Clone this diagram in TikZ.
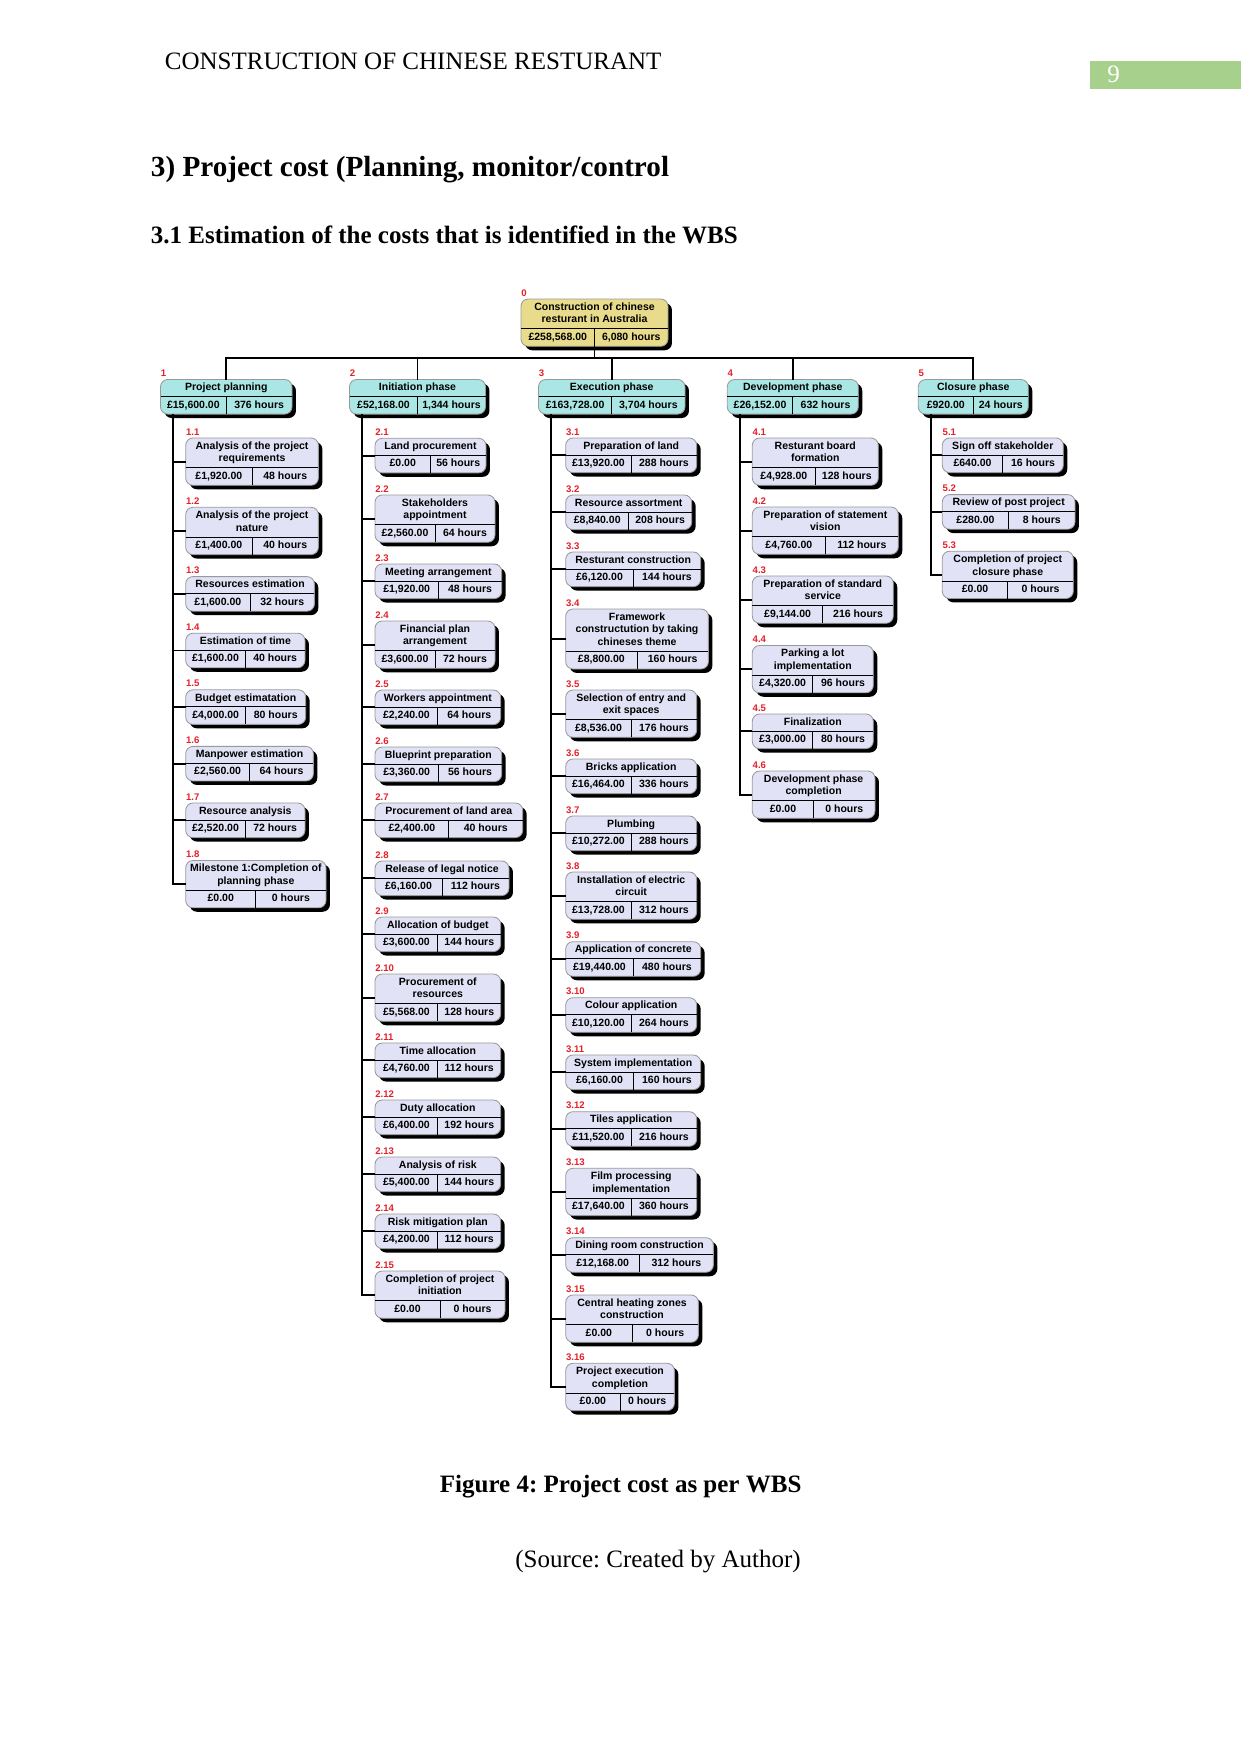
\documentclass[tikz,border=0pt]{standalone}
\usepackage{fontspec}
\setmainfont{Liberation Serif}
\newfontfamily\wbsfam{Liberation Sans}
\usetikzlibrary{fit,backgrounds,shadows}

\definecolor{rootfill}{HTML}{E8DC8C}
\definecolor{phasefill}{HTML}{AAE6E4}
\definecolor{taskfill}{HTML}{E2E2F6}
\definecolor{numred}{HTML}{E3202A}
\definecolor{pagegreen}{HTML}{A8D08D}

\newcommand\wbsup{\rule{0pt}{3.9pt}}
\newcommand\wbsdn{\rule[-1.3pt]{0pt}{1.3pt}}

% #1 fill style, #2 name, #3 top left, #4 width (px), #5 number, #6 title, #7 cost, #8 hours
\newcommand{\wbsbox}[8]{%
  \node[wbstitle, minimum width=#4*0.48pt, anchor=north west] (#2-ti) at #3 {\wbsup#6\wbsdn};
  \node[wbscell, minimum width=#4*0.24pt, anchor=north west] (#2-co) at (#2-ti.south west) {#7};
  \node[wbscell, minimum width=#4*0.24pt, anchor=north west] (#2-hr) at (#2-co.north east) {#8};
  \begin{scope}[on background layer]
    \node[wbsframe, #1, fit=(#2-ti)(#2-co)(#2-hr)] (#2) {};
  \end{scope}
  \draw[wbsrule] (#2-ti.south west) -- (#2-ti.south east);
  \draw[wbsrule] (#2-co.north east) -- (#2-co.south east);
  \node[wbsnum] (#2-no) at ([yshift=1.4pt]#2.north west) {#5};
}

\begin{document}
\frenchspacing
\begin{tikzpicture}[x=0.48pt, y=-0.48pt,
    wbstitle/.style={inner xsep=1pt, inner ysep=1.5pt, outer sep=0pt, align=center,
      font=\wbsfam\bfseries\fontsize{5.05pt}{6.1pt}\selectfont},
    wbscell/.style={inner xsep=0pt, inner ysep=1.6pt, outer sep=0pt,
      text height=3.9pt, text depth=1.3pt,
      font=\wbsfam\bfseries\fontsize{5.05pt}{6.1pt}\selectfont},
    wbsframe/.style={draw=gray!80, line width=0.4pt, rounded corners=3.5pt,
      inner sep=0pt, outer sep=0pt,
      drop shadow={shadow xshift=1.9pt, shadow yshift=-1.9pt, opacity=1, fill=black}},
    wbsroot/.style={fill=rootfill},
    wbsphase/.style={fill=phasefill},
    wbstask/.style={fill=taskfill},
    wbsrule/.style={line width=0.4pt, black},
    wbsnum/.style={anchor=base west, inner sep=0pt, text=numred,
      font=\wbsfam\bfseries\fontsize{4.6pt}{5.5pt}\selectfont},
    wbslink/.style={line width=0.9pt, black}]
  \useasboundingbox (0,0) rectangle (1241,1754);

  % Page header and headings
  \node[anchor=base west, inner sep=0pt, font=\fontsize{12pt}{14pt}\selectfont] (head) at (164.5,69.3) {CONSTRUCTION OF CHINESE RESTURANT};
  \fill[pagegreen] (1090,61) rectangle (1241,89);
  \node[anchor=base west, inner sep=0pt, text=white, font=\fontsize{12pt}{14pt}\selectfont] (pageno) at (1107,82.7) {9};
  \node[anchor=base west, inner sep=0pt, font=\bfseries\fontsize{14pt}{17pt}\selectfont] (sec) at (150.5,176.7) {3) Project cost (Planning, monitor/control};
  \node[anchor=base west, inner sep=0pt, font=\bfseries\fontsize{12pt}{14pt}\selectfont] (subsec) at (150.5,243.5) {3.1 Estimation of the costs that is identified in the WBS};

  % Root and phases
  \wbsbox{wbsroot}{root}{(521,299)}{147}{0}{Construction of chinese\\resturant in Australia}{£258,568.00}{6,080 hours}
  \wbsbox{wbsphase}{ph1}{(160.5,379.5)}{131.5}{1}{Project planning}{£15,600.00}{376 hours}
  \wbsbox{wbsphase}{ph2}{(349.5,379.5)}{136}{2}{Initiation phase}{£52,168.00}{1,344 hours}
  \wbsbox{wbsphase}{ph3}{(538.5,379.5)}{146.5}{3}{Execution phase}{£163,728.00}{3,704 hours}
  \wbsbox{wbsphase}{ph4}{(727.3,379.5)}{131}{4}{Development phase}{£26,152.00}{632 hours}
  \wbsbox{wbsphase}{ph5}{(918.3,379.5)}{110}{5}{Closure phase}{£920.00}{24 hours}

  % Project planning
  \wbsbox{wbstask}{t1-1}{(185.7,438)}{132.7}{1.1}{Analysis of the project\\requirements}{£1,920.00}{48 hours}
  \wbsbox{wbstask}{t1-2}{(185.7,507.3)}{132.7}{1.2}{Analysis of the project\\nature}{£1,400.00}{40 hours}
  \wbsbox{wbstask}{t1-3}{(185.7,576.6)}{128.7}{1.3}{Resources estimation}{£1,600.00}{32 hours}
  \wbsbox{wbstask}{t1-4}{(185.7,633.2)}{119.3}{1.4}{Estimation of time}{£1,600.00}{40 hours}
  \wbsbox{wbstask}{t1-5}{(185.7,689.8)}{120}{1.5}{Budget estimatation}{£4,000.00}{80 hours}
  \wbsbox{wbstask}{t1-6}{(185.7,746.4)}{127.7}{1.6}{Manpower estimation}{£2,560.00}{64 hours}
  \wbsbox{wbstask}{t1-7}{(185.7,803)}{119.3}{1.7}{Resource analysis}{£2,520.00}{72 hours}
  \wbsbox{wbstask}{t1-8}{(185.7,860.5)}{140.3}{1.8}{Milestone 1:Completion of\\planning phase}{£0.00}{0 hours}

  % Initiation phase
  \wbsbox{wbstask}{t2-1}{(375,438.3)}{111}{2.1}{Land procurement}{£0.00}{56 hours}
  \wbsbox{wbstask}{t2-2}{(375,495)}{120}{2.2}{Stakeholders\\appointment}{£2,560.00}{64 hours}
  \wbsbox{wbstask}{t2-3}{(375,564)}{126.7}{2.3}{Meeting arrangement}{£1,920.00}{48 hours}
  \wbsbox{wbstask}{t2-4}{(375,621)}{120}{2.4}{Financial plan\\arrangement}{£3,600.00}{72 hours}
  \wbsbox{wbstask}{t2-5}{(375,690)}{125.7}{2.5}{Workers appointment}{£2,240.00}{64 hours}
  \wbsbox{wbstask}{t2-6}{(375,747)}{126.7}{2.6}{Blueprint preparation}{£3,360.00}{56 hours}
  \wbsbox{wbstask}{t2-7}{(375,803)}{147.7}{2.7}{Procurement of land area}{£2,400.00}{40 hours}
  \wbsbox{wbstask}{t2-8}{(375,861)}{134}{2.8}{Release of legal notice}{£6,160.00}{112 hours}
  \wbsbox{wbstask}{t2-9}{(375,917)}{125.7}{2.9}{Allocation of budget}{£3,600.00}{144 hours}
  \wbsbox{wbstask}{t2-10}{(375,974)}{125.7}{2.10}{Procurement of\\resources}{£5,568.00}{128 hours}
  \wbsbox{wbstask}{t2-11}{(375,1043)}{125.7}{2.11}{Time allocation}{£4,760.00}{112 hours}
  \wbsbox{wbstask}{t2-12}{(375,1100)}{125.7}{2.12}{Duty allocation}{£6,400.00}{192 hours}
  \wbsbox{wbstask}{t2-13}{(375,1157)}{125.7}{2.13}{Analysis of risk}{£5,400.00}{144 hours}
  \wbsbox{wbstask}{t2-14}{(375,1214)}{125.7}{2.14}{Risk mitigation plan}{£4,200.00}{112 hours}
  \wbsbox{wbstask}{t2-15}{(375,1271)}{130}{2.15}{Completion of project\\initiation}{£0.00}{0 hours}

  % Execution phase
  \wbsbox{wbstask}{t3-1}{(565.7,438)}{131}{3.1}{Preparation of land}{£13,920.00}{288 hours}
  \wbsbox{wbstask}{t3-2}{(565.7,495)}{126}{3.2}{Resource assortment}{£8,840.00}{208 hours}
  \wbsbox{wbstask}{t3-3}{(565.7,552)}{135}{3.3}{Resturant construction}{£6,120.00}{144 hours}
  \wbsbox{wbstask}{t3-4}{(565.7,609)}{142.7}{3.4}{Framework\\constructution by taking\\chineses theme}{£8,800.00}{160 hours}
  \wbsbox{wbstask}{t3-5}{(565.7,690)}{131}{3.5}{Selection of entry and\\exit spaces}{£8,536.00}{176 hours}
  \wbsbox{wbstask}{t3-6}{(565.7,759)}{131}{3.6}{Bricks application}{£16,464.00}{336 hours}
  \wbsbox{wbstask}{t3-7}{(565.7,816)}{131}{3.7}{Plumbing}{£10,272.00}{288 hours}
  \wbsbox{wbstask}{t3-8}{(565.7,872)}{131}{3.8}{Installation of electric\\circuit}{£13,728.00}{312 hours}
  \wbsbox{wbstask}{t3-9}{(565.7,941.7)}{135}{3.9}{Application of concrete}{£19,440.00}{480 hours}
  \wbsbox{wbstask}{t3-10}{(565.7,997.7)}{131}{3.10}{Colour application}{£10,120.00}{264 hours}
  \wbsbox{wbstask}{t3-11}{(565.7,1055)}{135}{3.11}{System implementation}{£6,160.00}{160 hours}
  \wbsbox{wbstask}{t3-12}{(565.7,1111.7)}{131}{3.12}{Tiles application}{£11,520.00}{216 hours}
  \wbsbox{wbstask}{t3-13}{(565.7,1168.3)}{131}{3.13}{Film processing\\implementation}{£17,640.00}{360 hours}
  \wbsbox{wbstask}{t3-14}{(565.7,1237.7)}{147.7}{3.14}{Dining room construction}{£12,168.00}{312 hours}
  \wbsbox{wbstask}{t3-15}{(565.7,1295)}{132.7}{3.15}{Central heating zones\\construction}{£0.00}{0 hours}
  \wbsbox{wbstask}{t3-16}{(565.7,1363.3)}{108.7}{3.16}{Project execution\\completion}{£0.00}{0 hours}

  % Development phase
  \wbsbox{wbstask}{t4-1}{(752.3,438)}{126}{4.1}{Resturant board\\formation}{£4,928.00}{128 hours}
  \wbsbox{wbstask}{t4-2}{(752.3,507)}{146}{4.2}{Preparation of statement\\vision}{£4,760.00}{112 hours}
  \wbsbox{wbstask}{t4-3}{(752.3,576)}{141}{4.3}{Preparation of standard\\service}{£9,144.00}{216 hours}
  \wbsbox{wbstask}{t4-4}{(752.3,645.5)}{121}{4.4}{Parking a lot\\implementation}{£4,320.00}{96 hours}
  \wbsbox{wbstask}{t4-5}{(752.3,714)}{121}{4.5}{Finalization}{£3,000.00}{80 hours}
  \wbsbox{wbstask}{t4-6}{(752.3,771)}{122.7}{4.6}{Development phase\\completion}{£0.00}{0 hours}

  % Closure phase
  \wbsbox{wbstask}{t5-1}{(942.3,438)}{121}{5.1}{Sign off stakeholder}{£640.00}{16 hours}
  \wbsbox{wbstask}{t5-2}{(942.3,494.6)}{132.7}{5.2}{Review of post project}{£280.00}{8 hours}
  \wbsbox{wbstask}{t5-3}{(942.3,551.2)}{131}{5.3}{Completion of project\\closure phase}{£0.00}{0 hours}

  % Connectors
  \coordinate (bus) at (0,357.7);
  \draw[wbslink] (root.south) -- (root.south |- bus);
  \draw[wbslink] (ph1.north) -- (ph1.north |- bus) -- (ph5.north |- bus) -- (ph5.north);
  \foreach \c in {2,3,4} \draw[wbslink] (ph\c.north |- bus) -- (ph\c.north);
  \foreach \c/\n in {1/8,2/15,3/16,4/6,5/3} {
    \coordinate (sp\c) at ([xshift=6.1pt]ph\c.south west);
    \draw[wbslink] (sp\c) |- (t\c-\n.west);
    \foreach \k in {1,...,\n} \draw[wbslink] (sp\c |- t\c-\k.west) -- (t\c-\k.west);
  }

  % Caption
  \node[anchor=base west, inner sep=0pt, font=\bfseries\fontsize{12pt}{14pt}\selectfont] (caption) at (439.5,1492.7) {Figure 4: Project cost as per WBS};
  \node[anchor=base west, inner sep=0pt, font=\fontsize{12pt}{14pt}\selectfont] (source) at (515,1567.3) {(Source: Created by Author)};
\end{tikzpicture}
\end{document}
